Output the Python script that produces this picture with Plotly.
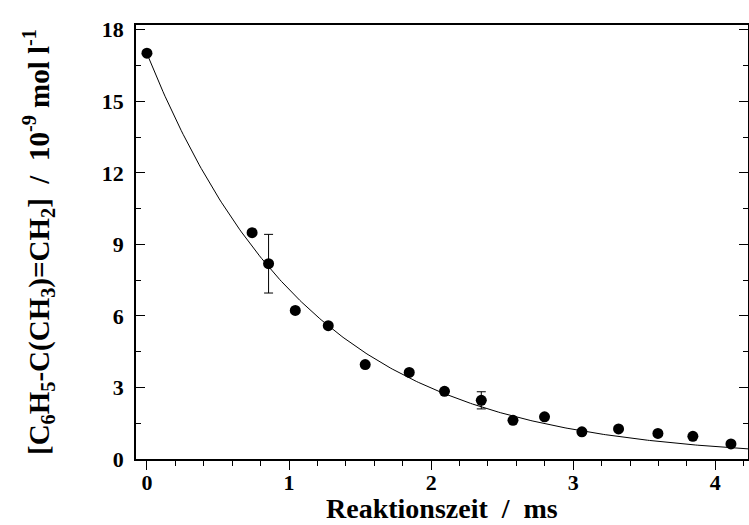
import numpy as np
import plotly.graph_objects as go

# Measured data (Reaktionszeit in ms, concentration in 1e-9 mol/l)
t_ms = [0.0, 0.74, 0.856, 1.044, 1.276, 1.536, 1.846, 2.094, 2.353, 2.576,
        2.798, 3.061, 3.319, 3.596, 3.842, 4.110]
conc = [17.02, 9.49, 8.19, 6.23, 5.59, 3.96, 3.63, 2.84, 2.46, 1.62,
        1.77, 1.14, 1.26, 1.07, 0.95, 0.63]
err = [0, 0, 1.23, 0, 0, 0, 0, 0, 0.36, 0, 0, 0, 0, 0, 0, 0]

# Fitted exponential decay shown as the solid line
fit_A = 17.0     # 1e-9 mol/l
fit_k = 0.872    # 1/ms
t_fit = np.linspace(0.0, 4.23, 300)
c_fit = fit_A * np.exp(-fit_k * t_fit)

x_ticks = [0, 1, 2, 3, 4]
y_ticks = [0, 3, 6, 9, 12, 15, 18]

serif = "Liberation Serif, Times New Roman, serif"
NB = "\u00a0"
x_title = f"Reaktionszeit{NB}{NB}/{NB}{NB}ms"
y_title = (f"[C<sub>6</sub>H<sub>5</sub>-C(CH<sub>3</sub>)=CH<sub>2</sub>]"
           f"{NB}{NB}/{NB}{NB}10<sup>-9</sup> mol l<sup>-1</sup>")

fig = go.Figure()
fig.add_trace(go.Scatter(
    x=t_fit, y=c_fit, mode="lines",
    line=dict(color="black", width=1), hoverinfo="skip", showlegend=False))
fig.add_trace(go.Scatter(
    x=t_ms, y=conc, mode="markers",
    marker=dict(color="black", size=11),
    error_y=dict(type="data", array=[e if e > 0 else None for e in err],
                 color="black", thickness=1, width=4.5, visible=True),
    showlegend=False))

fig.update_layout(
    width=749, height=525,
    margin=dict(l=136, r=1, t=25, b=66),
    paper_bgcolor="white", plot_bgcolor="white",
    font=dict(family=serif, color="black"),
)
fig.add_annotation(
    text=x_title, xref="paper", yref="paper", x=0.5, y=0,
    xanchor="center", yanchor="bottom", yshift=-66, showarrow=False,
    borderpad=0,
    font=dict(family=serif, size=28, weight="bold", color="black"))
fig.update_xaxes(
    range=[-0.077, 4.23], automargin=False,
    tickvals=x_ticks, ticktext=[str(v) for v in x_ticks],
    ticks="outside", ticklen=9, tickwidth=1.2, tickcolor="black",
    minor=dict(dtick=0.2, ticks="outside", ticklen=5, tickwidth=1, tickcolor="black", showgrid=False),
    showline=True, linecolor="black", linewidth=1.6, mirror=True,
    showgrid=False, zeroline=False,
    tickfont=dict(family=serif, size=22, weight="bold", color="black"),
    ticklabelstandoff=-6,
)
fig.update_yaxes(
    range=[0, 18.2], automargin=False,
    tickvals=y_ticks, ticktext=[str(v) for v in y_ticks],
    ticks="inside", ticklen=9, tickwidth=1.2, tickcolor="black",
    minor=dict(dtick=1.5, ticks="inside", ticklen=5, tickwidth=1, tickcolor="black", showgrid=False),
    showline=True, linecolor="black", linewidth=1.6, mirror="ticks",
    showgrid=False, zeroline=False,
    tickfont=dict(family=serif, size=22, weight="bold", color="black"),
    ticklabelstandoff=6,
    title=dict(text=y_title,
               font=dict(family=serif, size=29, weight="bold", color="black"),
               standoff=44),
)

fig.write_html("out.html", config={"displayModeBar": False},
               post_script="document.body.style.margin='0';")
